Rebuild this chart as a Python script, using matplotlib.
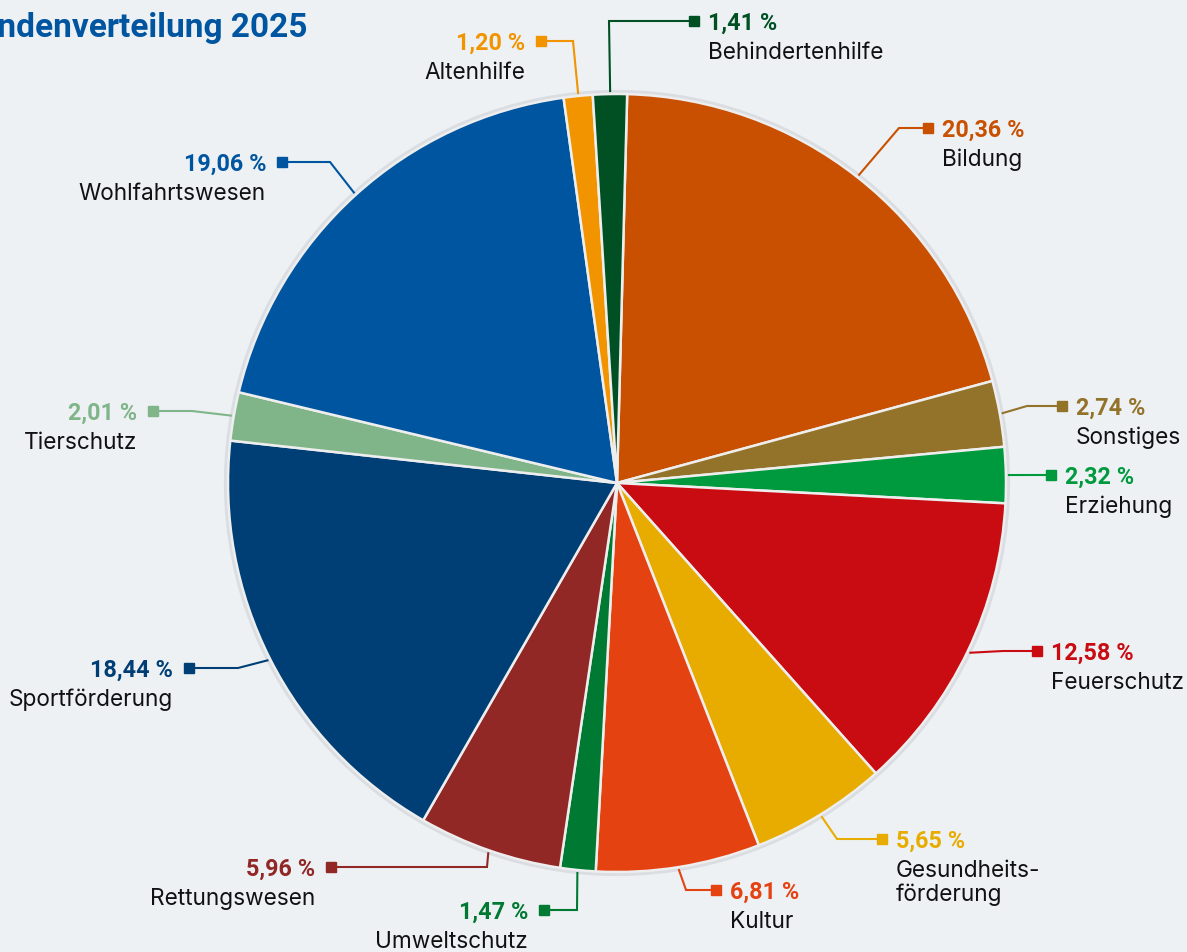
import matplotlib.pyplot as plt
import numpy as np

plt.rcParams['font.family'] = ['Inter', 'DejaVu Sans']

# Spendenverteilung 2025, clockwise from top
categories = ['Bildung', 'Sonstiges', 'Erziehung', 'Feuerschutz', 'Gesundheits-\nförderung',
              'Kultur', 'Umweltschutz', 'Rettungswesen', 'Sportförderung', 'Tierschutz',
              'Wohlfahrtswesen', 'Altenhilfe', 'Behindertenhilfe']
shares = [20.36, 2.74, 2.32, 12.58, 5.65, 6.81, 1.47, 5.96, 18.44, 2.01, 19.06, 1.20, 1.41]
colors = ['#C85000', '#93722A', '#009A3E', '#C80C12', '#E8AC00', '#E54212', '#007A32',
          '#912826', '#003F75', '#80B58A', '#0055A0', '#F29400', '#005024']

W, H = 1187, 953
bg = '#EDF1F4'

# label layout in pixel coords (y from top): elbow, marker
elbows = [(899, 129), (1027, 407), (1030, 476), (1003, 652), (837, 840), (686, 891),
          (577, 911), (487, 868), (238, 669), (192, 412), (330, 163), (573, 42), (609, 22)]
markers = [(928, 129), (1062, 407), (1051, 476), (1037, 652), (882, 840), (716, 891),
           (544, 911), (331, 868), (189, 669), (153, 412), (282, 163), (541, 42), (694, 22)]

cx, cy, R = 617, 484, 389
start = 88.5

fig = plt.figure(figsize=(W / 100, H / 100), dpi=100, facecolor=bg)
ax = fig.add_axes([0, 0, 1, 1])
ax.set_facecolor(bg)

# faint outer ring
ax.add_patch(plt.Circle((cx, H - cy), R + 2, facecolor='none', edgecolor='#DADEE2', lw=3, zorder=1))
wedges, _ = ax.pie(shares, colors=colors, startangle=start, counterclock=False,
                   center=(cx, H - cy), radius=R, frame=True,
                   wedgeprops=dict(edgecolor='#EEEEEE', linewidth=1.8))

cum = np.cumsum([0] + shares[:-1])
for i, (name, val, col) in enumerate(zip(categories, shares, colors)):
    ang = np.deg2rad(start - (cum[i] + val / 2) * 3.6)
    x0 = cx + (R + 3) * np.cos(ang)
    y0 = cy - (R + 3) * np.sin(ang)
    ex, ey = elbows[i]
    mx, my = markers[i]
    ax.plot([x0, ex, mx], [H - y0, H - ey, H - my], color=col, lw=1.5, zorder=3,
            solid_joinstyle='miter')
    ax.plot([mx], [H - my], marker='s', ms=7, color=col, zorder=4)
    right = mx > ex
    tx = mx + 14 if right else mx - 16
    ha = 'left' if right else 'right'
    pct = f'{val:.2f}'.replace('.', ',') + ' %'
    ax.text(tx, H - my - 8, pct, color=col, fontsize=16.8, fontweight='bold', ha=ha,
            va='baseline', family=['Roboto', 'DejaVu Sans'])
    for k, line in enumerate(name.split('\n')):
        ax.text(tx, H - my - 37 - 24 * k, line, color='#111111', fontsize=16.3, ha=ha,
                va='baseline')

fig.text(308 / W, 1 - 37 / H, 'Spendenverteilung 2025', color='#0055A0', fontsize=24,
         fontweight='bold', ha='right', va='baseline', family=['Roboto', 'DejaVu Sans'])

ax.set_xlim(0, W)
ax.set_ylim(0, H)
ax.set_aspect('equal')
ax.axis('off')

fig.savefig('out.png', dpi=100, facecolor=bg)
